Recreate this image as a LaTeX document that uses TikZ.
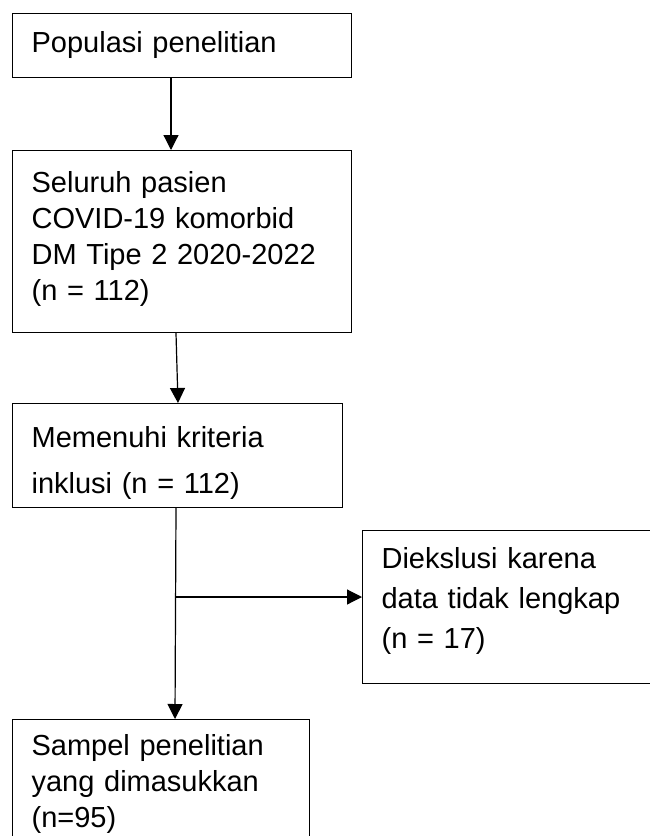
\documentclass[tikz,border=0pt]{standalone}
\usepackage{fontspec}
\setmainfont{Liberation Sans}
\usetikzlibrary{arrows.meta}

\tikzset{
  flowbox/.style={draw, line width=1.2pt, anchor=north west, align=left,
    inner xsep=19pt, inner ysep=0pt, font=\fontsize{29}{36}\selectfont},
  flowarrow/.style={line width=1.2pt, -{Triangle[length=15pt,width=15pt]}}
}

\begin{document}
\begin{tikzpicture}[x=1pt, y=-1pt]
            \useasboundingbox (0, 0) rectangle (649, 836);

            \node[flowbox, text width=301pt, text height=39pt, text depth=25pt] (pop) at (12, 13) {Populasi penelitian};
            \node[flowbox, text width=301pt, text height=42pt, text depth=140pt] (all) at (12, 150) {Seluruh pasien\\COVID-19 komorbid\\DM Tipe 2 2020-2022\\(n = 112)};
            \node[flowbox, text width=292pt, text height=44pt, text depth=60pt, font=\fontsize{29}{46}\selectfont] (incl) at (12, 403) {Memenuhi kriteria\\inklusi (n = 112)};
            \node[flowbox, text width=320pt, text height=38pt, text depth=115pt, font=\fontsize{29}{40}\selectfont] (excl) at (362, 530) {Diekslusi karena\\data tidak lengkap\\(n = 17)};
            \node[flowbox, text width=259pt, text height=36pt, text depth=94pt] (sample) at (12, 719) {Sampel penelitian\\yang dimasukkan\\(n=95)};

            \coordinate (split) at (176, 597);

            \draw[flowarrow] ([xshift=159pt]pop.south west) to ([xshift=159pt]all.north west);
            \draw[flowarrow] ([xshift=164pt]all.south west) to ([xshift=166pt]incl.north west);
            \draw[flowarrow] ([xshift=164pt]incl.south west) to ([xshift=163pt]sample.north west);
            \draw[flowarrow] (split) to (split -| excl.west);

        \end{tikzpicture}
\end{document}
